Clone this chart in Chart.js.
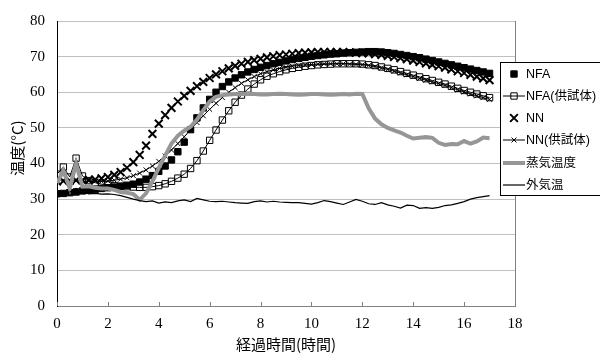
<!DOCTYPE html>
<html>
<head>
<meta charset="utf-8">
<script src="https://cdn.jsdelivr.net/npm/chart.js@4/dist/chart.umd.min.js"></script>
<style>
html,body{margin:0;padding:0;background:#fff;}
#wrap{width:600px;height:354px;position:relative;}
</style>
</head>
<body>
<div id="wrap"><canvas id="c" width="600" height="354"></canvas></div>
<script>
// ---- data (hours, °C) ----
const seriesNames = ["NFA", "NFA(供試体)", "NN", "NN(供試体)", "蒸気温度", "外気温"];
const xTicks = [0, 2, 4, 6, 8, 10, 12, 14, 16, 18];
const yTicks = [0, 10, 20, 30, 40, 50, 60, 70, 80];
const xTitle = "経過時間(時間)";
const yTitle = "温度(°C)";

const hours = [0,0.25,0.5,0.75,1,1.25,1.5,1.75,2,2.25,2.5,2.75,3,3.25,3.5,3.75,4,4.25,4.5,4.75,5,5.25,5.5,5.75,6,6.25,6.5,6.75,7,7.25,7.5,7.75,8,8.25,8.5,8.75,9,9.25,9.5,9.75,10,10.25,10.5,10.75,11,11.25,11.5,11.75,12,12.25,12.5,12.75,13,13.25,13.5,13.75,14,14.25,14.5,14.75,15,15.25,15.5,15.75,16,16.25,16.5,16.75,17];

const nfa = [31.5,31.6,31.8,32.0,32.3,32.5,32.7,33.0,33.2,33.4,33.6,33.9,34.2,34.8,35.6,36.6,37.8,39.3,41.0,43.3,46.0,49.5,52.8,55.6,58.0,60.0,61.6,62.9,64.0,64.9,65.7,66.4,67.0,67.5,68.0,68.4,68.8,69.2,69.5,69.8,70.1,70.3,70.5,70.7,70.8,71.0,71.1,71.2,71.3,71.4,71.4,71.3,71.1,70.9,70.6,70.3,70.0,69.7,69.3,68.9,68.5,68.1,67.7,67.3,66.9,66.5,66.1,65.7,65.3];

const nfaSpec = [37.0,39.0,36.2,41.5,36.5,35.2,34.6,34.2,34.0,33.8,33.6,33.5,33.4,33.3,33.3,33.5,33.8,34.3,35.0,35.9,37.0,38.6,40.8,43.5,46.5,49.4,52.2,54.8,57.2,59.2,60.9,62.3,63.5,64.5,65.2,65.8,66.3,66.7,67.0,67.3,67.5,67.7,67.8,67.9,68.0,68.0,68.0,68.0,67.9,67.7,67.5,67.1,66.7,66.3,65.8,65.3,64.8,64.3,63.8,63.3,62.8,62.3,61.7,61.1,60.5,60.0,59.5,59.0,58.5];

const nn = [35.0,35.1,35.2,35.3,35.3,35.4,35.5,35.8,36.2,36.8,37.6,38.8,40.4,42.4,45.0,48.3,51.2,53.6,55.6,57.4,59.0,60.4,61.7,62.9,64.0,65.0,65.9,66.7,67.4,68.0,68.5,69.0,69.4,69.8,70.1,70.4,70.6,70.8,71.0,71.1,71.2,71.3,71.3,71.3,71.3,71.3,71.2,71.1,71.0,70.9,70.7,70.5,70.2,69.9,69.6,69.3,68.9,68.5,68.1,67.7,67.3,66.9,66.4,65.9,65.4,64.9,64.4,63.9,63.4];

const nnSpec = [35.5,35.3,35.2,35.2,35.1,35.0,35.0,35.0,35.1,35.3,35.6,36.0,36.6,37.3,38.2,39.3,40.6,42.1,43.8,45.6,47.5,49.5,51.5,53.4,55.2,56.9,58.5,60.0,61.3,62.5,63.5,64.4,65.2,65.8,66.3,66.7,67.0,67.3,67.5,67.7,67.8,67.9,68.0,68.0,68.0,68.0,67.9,67.8,67.7,67.5,67.2,66.8,66.4,65.9,65.4,64.9,64.4,63.9,63.4,62.9,62.4,61.9,61.3,60.7,60.1,59.5,59.0,58.5,58.0];

const steam = [34.5,38.0,33.0,40.0,33.5,33.6,33.2,33.0,33.0,32.6,32.0,31.8,31.4,29.8,31.6,35.0,38.8,42.2,45.6,47.8,49.2,50.3,52.3,55.0,57.4,58.7,59.2,59.4,59.5,59.5,59.6,59.5,59.4,59.4,59.5,59.6,59.5,59.4,59.3,59.4,59.5,59.5,59.4,59.3,59.4,59.5,59.4,59.6,59.5,55.5,52.6,51.0,50.0,49.3,48.7,47.8,47.0,47.2,47.4,47.2,45.8,45.2,45.5,45.4,46.3,45.6,46.2,47.3,47.1];

const outside = [31.0,31.5,32.0,33.0,32.0,31.5,31.6,31.4,31.5,31.3,31.0,30.5,30.0,29.6,29.3,29.5,28.9,29.2,29.0,29.5,29.8,29.3,30.2,29.8,29.4,29.3,29.4,29.2,29.0,28.9,28.8,29.3,29.5,29.2,29.4,29.2,29.1,29.0,29.0,28.8,28.6,29.0,29.6,29.3,28.9,28.5,29.2,29.9,29.4,28.7,28.5,29.0,28.4,28.0,27.5,28.3,28.2,27.4,27.6,27.4,27.7,28.2,28.4,28.8,29.3,30.0,30.4,30.7,31.0];

// ---- build ----
const pts = arr => hours.map((h, i) => ({x: h, y: arr[i]}));
const valueSets = [nfa, nfaSpec, nn, nnSpec, steam, outside];

const styles = [
  {showLine:false, pointStyle:'rect', pointRadius:4.5, pointBackgroundColor:'#000', pointBorderColor:'#000', pointBorderWidth:1, borderColor:'#000', borderWidth:0},
  {showLine:true, pointStyle:'rect', pointRadius:4.5, pointBackgroundColor:'rgba(0,0,0,0)', pointBorderColor:'#000', pointBorderWidth:1, borderColor:'#000', borderWidth:1},
  {showLine:false, pointStyle:'crossRot', pointRadius:5.5, pointBackgroundColor:'#000', pointBorderColor:'#000', pointBorderWidth:2, borderColor:'#000', borderWidth:0},
  {showLine:true, pointStyle:'crossRot', pointRadius:3.5, pointBackgroundColor:'#000', pointBorderColor:'#000', pointBorderWidth:1, borderColor:'#000', borderWidth:1},
  {showLine:true, pointRadius:0, borderColor:'#969696', borderWidth:4},
  {showLine:true, pointRadius:0, borderColor:'#000', borderWidth:1.2}
];

const datasets = seriesNames.map((name, i) => Object.assign({
  label: name,
  data: pts(valueSets[i]),
  tension: 0,
  fill: false,
  order: 6 - i,
  pointHoverRadius: 0
}, styles[i]));

const sansJP = "'Liberation Sans', 'Noto Sans CJK JP', sans-serif";
const jp = "'Noto Sans CJK JP', sans-serif";
const serif = "'Liberation Serif', 'Times New Roman', serif";

function drawMarker(ctx, st, x, y) {
  if (!st.pointRadius) return;
  ctx.save();
  ctx.strokeStyle = st.pointBorderColor;
  ctx.lineWidth = st.pointBorderWidth;
  if (st.pointStyle === 'rect') {
    const h = Math.SQRT1_2 * st.pointRadius;
    ctx.beginPath();
    ctx.rect(x - h, y - h, 2 * h, 2 * h);
    if (st.pointBackgroundColor !== 'rgba(0,0,0,0)') { ctx.fillStyle = st.pointBackgroundColor; ctx.fill(); }
    ctx.stroke();
  } else {
    const d = Math.SQRT1_2 * st.pointRadius;
    ctx.beginPath();
    ctx.moveTo(x - d, y - d); ctx.lineTo(x + d, y + d);
    ctx.moveTo(x - d, y + d); ctx.lineTo(x + d, y - d);
    ctx.stroke();
  }
  ctx.restore();
}

const overlay = {
  id: 'overlay',
  afterDraw(chart) {
    const {ctx, chartArea: a, scales} = chart;
    ctx.save();
    // plot area right border
    ctx.strokeStyle = '#808080';
    ctx.lineWidth = 1;
    ctx.beginPath();
    ctx.moveTo(Math.round(a.right) + 0.5, a.top);
    ctx.lineTo(Math.round(a.right) + 0.5, a.bottom);
    ctx.stroke();
    // small inside tick marks on x axis
    xTicks.forEach(v => {
      const px = Math.round(scales.x.getPixelForValue(v)) + 0.5;
      ctx.beginPath(); ctx.moveTo(px, a.bottom); ctx.lineTo(px, a.bottom - 4); ctx.stroke();
    });
    // axis titles
    ctx.fillStyle = '#000';
    ctx.font = '15px ' + jp;
    ctx.textAlign = 'center';
    ctx.textBaseline = 'middle';
    ctx.fillText(xTitle, (a.left + a.right) / 2, 344);
    ctx.save();
    ctx.translate(17, 148);
    ctx.rotate(-Math.PI / 2);
    ctx.fillText(yTitle, 0, 0);
    ctx.restore();
    // legend
    const lx = 500, ly = 62, lh = 133;
    ctx.fillStyle = '#fff';
    ctx.fillRect(lx, ly, 110, lh);
    ctx.strokeStyle = '#000';
    ctx.lineWidth = 1;
    ctx.strokeRect(lx + 0.5, ly + 0.5, 110, lh);
    const rowY = [74, 96, 118, 140, 163, 185];
    datasets.forEach((ds, i) => {
      const cy = rowY[i];
      if (ds.showLine) {
        ctx.save();
        ctx.strokeStyle = ds.borderColor;
        ctx.lineWidth = ds.borderWidth;
        ctx.beginPath(); ctx.moveTo(503, cy); ctx.lineTo(525, cy); ctx.stroke();
        ctx.restore();
      }
      drawMarker(ctx, ds, 514, cy);
      ctx.fillStyle = '#000';
      ctx.font = '12.5px ' + sansJP;
      ctx.textAlign = 'left';
      ctx.textBaseline = 'middle';
      ctx.fillText(ds.label, 526, cy + 1);
    });
    ctx.restore();
  }
};

new Chart(document.getElementById('c'), {
  type: 'scatter',
  data: {datasets},
  options: {
    responsive: false,
    animation: false,
    devicePixelRatio: 1,
    layout: {padding: {left: 0, top: 17, right: 85, bottom: 0}},
    plugins: {legend: {display: false}, tooltip: {enabled: false}, title: {display: false}},
    scales: {
      x: {
        type: 'linear', min: 0, max: 18,
        afterFit: s => { s.height = 48; },
        afterBuildTicks: s => { s.ticks = xTicks.map(v => ({value: v})); },
        grid: {display: false, drawTicks: false},
        border: {display: true, color: '#808080', width: 1},
        ticks: {padding: 9, color: '#000', font: {family: serif, size: 15}, maxRotation: 0, autoSkip: false}
      },
      y: {
        min: 0, max: 80,
        afterFit: s => { s.width = 57; },
        afterBuildTicks: s => { s.ticks = yTicks.map(v => ({value: v})); },
        grid: {color: '#c0c0c0', drawTicks: false, lineWidth: 1},
        border: {display: true, color: '#000', width: 1},
        ticks: {padding: 12, color: '#000', font: {family: serif, size: 15}}
      }
    }
  },
  plugins: [overlay]
});
</script>
</body>
</html>
